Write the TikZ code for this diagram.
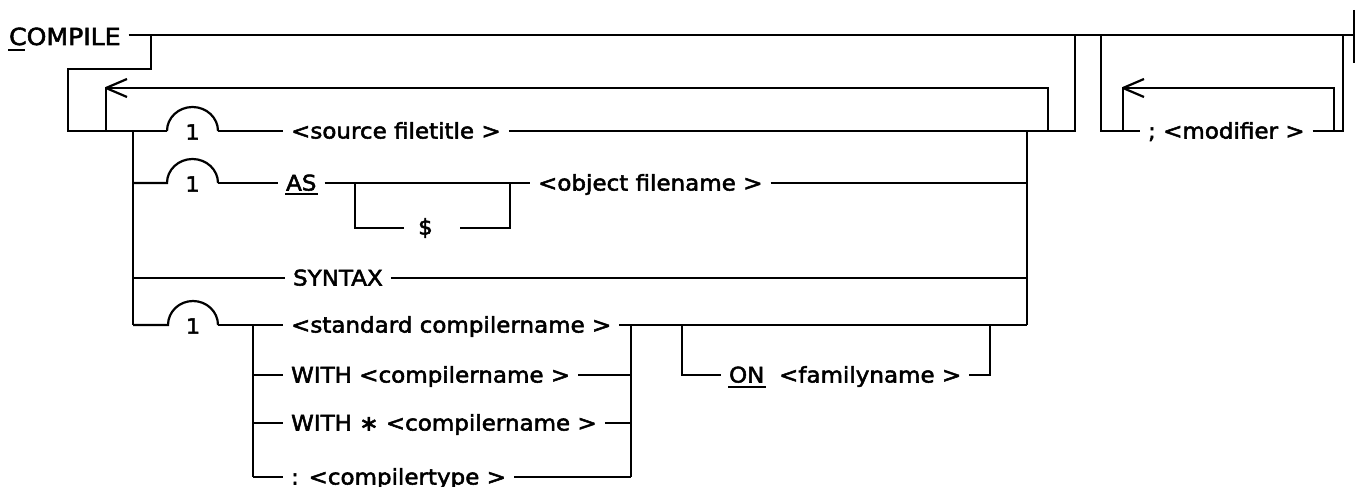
\documentclass[tikz,border=0pt]{standalone}
\usepackage{fontspec}
\setmainfont{DejaVu Sans}[FakeStretch=1.07, FakeBold=2.4]
\begin{document}
\begin{tikzpicture}[x=1pt,y=-1pt,
  every path/.style={line width=2.2pt},
  lbl/.style={anchor=base west, inner xsep=7pt, inner ysep=0pt, font=\fontsize{21.5}{25}\selectfont},
  big/.style={lbl, font=\fontsize{23.5}{27}\selectfont},
  one/.style={inner sep=0pt, font=\fontsize{21}{24}\selectfont},
  endbar/.style={line width=2.8pt},
  ul/.style={line width=1.8pt}]
\useasboundingbox (0,0) rectangle (1360,487);

% ---------- text nodes ----------
\node[big] (compile) at (1,45) {COMPILE};
\node[lbl] (src) at (283,138.5) {<source filetitle >};
\node[lbl] (as) at (278,190.5) {AS};
\node[lbl] (obj) at (530,190.5) {<object filename >};
\node[anchor=west, inner xsep=13pt, inner ysep=0pt, text width=28pt, align=left,
      font=\fontsize{21.5}{25}\selectfont] (dollar) at (404,228) {\$};
\node[lbl] (syn) at (285,285.5) {SYNTAX};
\node[lbl] (std) at (283,332.5) {<standard compilername >};
\node[lbl] (w1) at (283,382.5) {WITH <compilername >};
\node[lbl] (w2) at (283,430.5) {WITH ∗ <compilername >};
\node[lbl] (w3) at (283,484.5) {: <compilertype >};
\node[lbl] (on) at (721,382.5) {ON};
\node[lbl] (fam) at (771,382.5) {<familyname >};
\node[lbl] (mod) at (1140,138.5) {; <modifier >};

\node[one] (n1) at (192.5,132) {1};
\node[one] (n2) at (192.5,184) {1};
\node[one] (n4) at (193,326) {1};

% underlines
\draw[ul] ([xshift=7pt,yshift=-5pt]compile.base west) -- ([xshift=24pt,yshift=-5pt]compile.base west);
\draw[ul] ([xshift=7pt,yshift=-3.5pt]as.base west) -- ([xshift=-7pt,yshift=-3.5pt]as.base east);
\draw[ul] ([xshift=7pt,yshift=-4.5pt]on.base west) -- ([xshift=-7pt,yshift=-4.5pt]on.base east);

% ---------- coordinates ----------
\coordinate (mEnd) at (1354,35);
\coordinate (e1) at (1354,10);
\coordinate (e2) at (1354,63);
\coordinate (d0) at (151,35);
\coordinate (d1) at (151,69);
\coordinate (d2) at (68,69);
\coordinate (d3) at (68,131);
\coordinate (lpb) at (106,131);
\coordinate (lpt) at (106,88);
\coordinate (lpr) at (1048,88);
\coordinate (lprb) at (1048,131);
\coordinate (j1) at (133,131);
\coordinate (j2) at (133,183);
\coordinate (j3) at (133,278);
\coordinate (j4) at (133,325);
\coordinate (b1l) at (167,131);
\coordinate (b1r) at (218,131);
\coordinate (b2l) at (167,183);
\coordinate (b2r) at (218,183);
\coordinate (b4l) at (168,325);
\coordinate (b4r) at (218,325);
\coordinate (x1) at (1075,131);
\coordinate (x1t) at (1075,35);
\coordinate (s1) at (355,183);
\coordinate (s2) at (355,228);
\coordinate (s5) at (510,228);
\coordinate (s6) at (510,183);
\coordinate (k0) at (253,325);
\coordinate (k1) at (253,375);
\coordinate (k2) at (253,423);
\coordinate (k3) at (253,477);
\coordinate (q0) at (631,325);
\coordinate (q1) at (631,375);
\coordinate (q2) at (631,423);
\coordinate (q3) at (631,477);
\coordinate (o1) at (682,325);
\coordinate (o2) at (682,375);
\coordinate (o3) at (990,375);
\coordinate (o4) at (990,325);
\coordinate (m1) at (1027,131);
\coordinate (m2) at (1027,183);
\coordinate (m3) at (1027,278);
\coordinate (m4) at (1027,325);
\coordinate (r0) at (1101,35);
\coordinate (r1) at (1101,131);
\coordinate (r2) at (1343,131);
\coordinate (r3) at (1343,35);
\coordinate (r4) at (1334,131);
\coordinate (r5) at (1334,88);
\coordinate (r6) at (1123,88);
\coordinate (r7) at (1123,131);

% ---------- main line ----------
\draw (compile.east |- mEnd) -- (mEnd);
\draw[endbar] (e1) -- (e2);

% entry into first group
\draw (d0) -- (d1) -- (d2) -- (d3) -- (b1l);
% repeat loop
\draw (lpb) -- (lpt) -- (lpr) -- (lprb);
\draw (lpt) -- ++(21,-9);
\draw (lpt) -- ++(21,9);
% left trunk
\draw (j1) -- (j4);

% row 1
\draw (b1l) arc[start angle=180, end angle=0, x radius=25.5pt, y radius=24pt];
\draw (b1r) -- (src.west |- b1r);
\draw (src.east |- b1r) -- (x1) -- (x1t);

% row 2
\draw (j2) -- (b2l) arc[start angle=180, end angle=0, x radius=25.5pt, y radius=24pt];
\draw (b2r) -- (as.west |- b2r);
\draw (as.east |- b2r) -- (obj.west |- b2r);
\draw (s1) -- (s2) -- (dollar.west |- s2);
\draw (dollar.east |- s2) -- (s5) -- (s6);
\draw (obj.east |- m2) -- (m2);

% row 3
\draw (j3) -- (syn.west |- j3);
\draw (syn.east |- m3) -- (m3);

% row 4
\draw (j4) -- (b4l) arc[start angle=180, end angle=0, x radius=25pt, y radius=24pt];
\draw (b4r) -- (k0) -- (std.west |- k0);
\draw (std.east |- m4) -- (m4);
\draw (k0) -- (k3);
\draw (k1) -- (w1.west |- k1);
\draw (k2) -- (w2.west |- k2);
\draw (k3) -- (w3.west |- k3);
\draw (q0) -- (q3);
\draw (w1.east |- q1) -- (q1);
\draw (w2.east |- q2) -- (q2);
\draw (w3.east |- q3) -- (q3);
% ON branch
\draw (o1) -- (o2) -- (on.west |- o2);
\draw (fam.east |- o3) -- (o3) -- (o4);

% right trunk
\draw (m1) -- (m4);

% modifier group
\draw (r0) -- (r1) -- (mod.west |- r1);
\draw (mod.east |- r2) -- (r2) -- (r3);
\draw (r4) -- (r5) -- (r6) -- (r7);
\draw (r6) -- ++(21,-9);
\draw (r6) -- ++(21,9);
\end{tikzpicture}
\end{document}
